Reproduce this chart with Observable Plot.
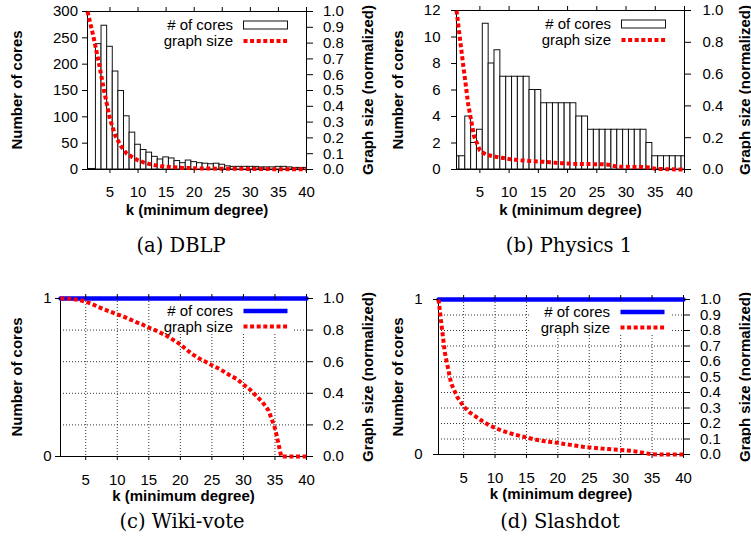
<!DOCTYPE html>
<html><head><meta charset="utf-8">
<script src="https://cdn.jsdelivr.net/npm/d3@7"></script>
<script src="https://cdn.jsdelivr.net/npm/@observablehq/plot@0.6"></script>
<style>
body{margin:0;background:#fff;}
#root{position:relative;width:751px;height:550px;overflow:hidden;background:#fff;font-family:"Liberation Sans",Arial,sans-serif;}
.panel{position:absolute;}
.cap{position:absolute;font-family:"DejaVu Serif",serif;font-size:19.5px;transform:translate(-50%,-50%);white-space:nowrap;color:#000;}
.ttl{position:absolute;font-family:"Liberation Sans",Arial,sans-serif;font-weight:bold;font-size:15px;white-space:nowrap;color:#000;transform:translate(-50%,-50%) rotate(-90deg);line-height:1;}
</style></head><body><div id="root"></div>
<script>
// ---- data ----
const kValues = [1,2,3,4,5,6,7,8,9,10,11,12,13,14,15,16,17,18,19,20,21,22,23,24,25,26,27,28,29,30,31,32,33,34,35,36,37,38,39,40];
const xTicks = [5,10,15,20,25,30,35,40];
const gridX = [5,10,15,20,25,30,35];
const legendLabels = ["# of cores", "graph size"];
const captions = ["(a) DBLP", "(b) Physics 1", "(c) Wiki-vote", "(d) Slashdot"];
const xTitle = "k (minimum degree)";
const yTitle = "Number of cores";
const y2Title = "Graph size (normalized)";

const dblpCores = [1,1,238,273,233,186,149,101,70,47,37,32,24,19,23,21,16,12,17,14,12,11,10,11,9,6,5,5,5,5,5,4,4,4,5,5,4,3,3,3];
const dblpSize = [1.0,0.85,0.68,0.49,0.32,0.21,0.145,0.10,0.078,0.058,0.045,0.035,0.027,0.022,0.018,0.015,0.012,0.010,0.009,0.008,0.007,0.006,0.006,0.005,0.005,0.005,0.004,0.004,0.004,0.003,0.003,0.003,0.003,0.002,0.002,0.002,0.002,0.001,0.001,0.001];
const physCores = [1,1,4,2,3,11,8,9,7,7,7,7,7,6,6,5,5,5,5,5,5,4,4,3,3,3,3,3,3,3,3,3,3,2,1,1,1,1,1,1];
const physSize = [1.0,0.70,0.41,0.21,0.12,0.095,0.085,0.078,0.072,0.066,0.062,0.058,0.055,0.052,0.05,0.048,0.045,0.042,0.04,0.038,0.036,0.035,0.034,0.034,0.033,0.033,0.03,0.022,0.018,0.017,0.016,0.016,0.015,0.012,0.005,0.003,0.002,0.001,0,0];
const wikiCores = [1,1,1,1,1,1,1,1,1,1,1,1,1,1,1,1,1,1,1,1,1,1,1,1,1,1,1,1,1,1,1,1,1,1,1,1,1,1,1,1];
const wikiSize = [1.0,1.0,0.995,0.99,0.98,0.965,0.947,0.93,0.915,0.9,0.885,0.868,0.85,0.835,0.815,0.8,0.78,0.76,0.735,0.71,0.675,0.645,0.62,0.6,0.578,0.558,0.535,0.51,0.49,0.455,0.425,0.385,0.345,0.29,0.18,0,0,0,0,0];
const slashCores = [1,1,1,1,1,1,1,1,1,1,1,1,1,1,1,1,1,1,1,1,1,1,1,1,1,1,1,1,1,1,1,1,1,1,1,1,1,1,1,1];
const slashSize = [1.0,0.66,0.46,0.37,0.31,0.27,0.243,0.215,0.19,0.172,0.155,0.142,0.13,0.12,0.11,0.1,0.092,0.085,0.08,0.075,0.068,0.062,0.056,0.05,0.046,0.042,0.038,0.035,0.032,0.029,0.026,0.022,0.016,0.008,0.002,0,0,0,0,0];

const dblpLeftTicks = [0,50,100,150,200,250,300];
const physLeftTicks = [0,2,4,6,8,10,12];
const unitLeftTicks = [0,1];
const rightTicksTenth = [0,0.1,0.2,0.3,0.4,0.5,0.6,0.7,0.8,0.9,1.0];
const rightTicksFifth = [0,0.2,0.4,0.6,0.8,1.0];
const gridYFifth = [0.2,0.4,0.6,0.8];
const gridYTenth = [0.1,0.2,0.3,0.4,0.5,0.6,0.7,0.8,0.9];

const RED = "#ff0000", BLUE = "#0000ff";
const DASH = "4,2.6";
const NS = "http://www.w3.org/2000/svg";
const FS = 15;

function el(tag, attrs, text) {
  const e = document.createElementNS(NS, tag);
  for (const k in attrs) e.setAttribute(k, attrs[k]);
  if (text != null) e.textContent = text;
  return e;
}

function legendMark(bars, opaque) {
  return (index, scales, values, dim) => {
    const R = dim.width - dim.marginRight;
    const T = dim.marginTop;
    const g = el("g", {});
    const r1 = bars ? T + 14 : T + 13;
    const r2 = bars ? T + 30 : T + 28.5;
    if (opaque) g.appendChild(el("rect", {x: R - 152, y: T + 3, width: 140, height: 33, fill: "#fff"}));
    g.appendChild(el("text", {x: R - 73, y: r1, "text-anchor": "end", dy: "0.35em", "font-size": FS, fill: "#000"}, legendLabels[0]));
    g.appendChild(el("text", {x: R - 73, y: r2, "text-anchor": "end", dy: "0.35em", "font-size": FS, fill: "#000"}, legendLabels[1]));
    if (bars) g.appendChild(el("rect", {x: R - 62.5, y: r1 - 4, width: 44, height: 8, fill: "#fff", stroke: "#111", "stroke-width": 1}));
    else g.appendChild(el("line", {x1: R - 62.5, x2: R - 18.5, y1: r1, y2: r1, stroke: BLUE, "stroke-width": 4.5}));
    g.appendChild(el("line", {x1: R - 62.5, x2: R - 18.5, y1: r2, y2: r2, stroke: RED, "stroke-width": 4, "stroke-dasharray": DASH}));
    return g;
  };
}

const root = document.getElementById("root");

function addDiv(cls, x, y, text) {
  const d = document.createElement("div");
  d.className = cls;
  d.style.left = x + "px";
  d.style.top = y + "px";
  d.textContent = text;
  root.appendChild(d);
}

function panel(cfg) {
  const data = kValues.map((k, i) => ({k, cores: cfg.cores[i], size: cfg.size[i]}));
  const s = cfg.yMax;
  const marks = [];
  if (cfg.grid) {
    marks.push(Plot.ruleX(gridX, {stroke: "#333", strokeWidth: 1, strokeDasharray: "1,2"}));
    marks.push(Plot.ruleY(cfg.gridY, {stroke: "#333", strokeWidth: 1, strokeDasharray: "1,2"}));
  } else {
    marks.push(Plot.rect(data, {x1: d => d.k - 0.5, x2: d => d.k + 0.5, y1: d => 0, y2: "cores", fill: "#fff", stroke: "#111", strokeWidth: 1, clip: true}));
  }
  marks.push(legendMark(!cfg.grid, cfg.grid));
  marks.push(Plot.frame({stroke: "#000", strokeWidth: 1}));
  if (cfg.grid) marks.push(Plot.line(data, {x: "k", y: "cores", stroke: BLUE, strokeWidth: 4.5}));
  marks.push(Plot.line(data, {x: "k", y: d => d.size * s, stroke: RED, strokeWidth: 4, strokeDasharray: DASH, strokeLinecap: "butt", strokeLinejoin: "miter"}));
  marks.push(Plot.axisX(xTicks, {anchor: "bottom", tickSize: 4, tickPadding: cfg.xPad, label: null}));
  marks.push(Plot.axisX(xTicks, {anchor: "top", tickSize: 5, tickFormat: () => "", label: null}));
  marks.push(Plot.axisY(cfg.leftTicks, {anchor: "left", tickSize: 5, tickPadding: cfg.leftPad, tickFormat: d => String(d), label: null}));
  marks.push(Plot.axisY(cfg.rightTicks.map(v => v * s), {anchor: "right", tickSize: 6, tickPadding: cfg.rightPad, tickFormat: d => (d / s).toFixed(1), label: null}));
  marks.push(Plot.text([xTitle], {text: d => d, frameAnchor: "bottom", dy: cfg.xTitleDy, fontWeight: "bold", fontSize: 15}));

  const svg = Plot.plot({
    width: cfg.width, height: cfg.height,
    marginLeft: cfg.ml, marginRight: cfg.mr, marginTop: cfg.mt, marginBottom: cfg.mb,
    x: {domain: [1, 40]},
    y: {domain: [0, s]},
    style: {fontFamily: "'Liberation Sans', Arial, sans-serif", fontSize: FS + "px", color: "#000", background: "transparent", overflow: "visible"},
    marks
  });
  const wrap = document.createElement("div");
  wrap.className = "panel";
  wrap.style.left = cfg.left + "px";
  wrap.style.top = cfg.top + "px";
  wrap.appendChild(svg);
  root.appendChild(wrap);
  const midY = cfg.top + cfg.mt + (cfg.height - cfg.mt - cfg.mb) / 2;
  addDiv("ttl", cfg.yTitleX, midY, yTitle);
  addDiv("ttl", cfg.y2TitleX, midY, y2Title);
  addDiv("cap", cfg.capX, cfg.capY, cfg.caption);
}

panel({cores: dblpCores, size: dblpSize, yMax: 300, grid: false, leftTicks: dblpLeftTicks, rightTicks: rightTicksTenth,
  left: 0, top: 0, width: 375, height: 232, ml: 87, mr: 69, mt: 11, mb: 63,
  xPad: 13, leftPad: 4.5, rightPad: 10.5, xTitleDy: 45, yTitleX: 16, y2TitleX: 367,
  caption: captions[0], capX: 181, capY: 245});

panel({cores: physCores, size: physSize, yMax: 12, grid: false, leftTicks: physLeftTicks, rightTicks: rightTicksFifth,
  left: 375, top: 0, width: 376, height: 232, ml: 81, mr: 67, mt: 10, mb: 63,
  xPad: 13, leftPad: 11, rightPad: 12, xTitleDy: 45, yTitleX: 397, y2TitleX: 744,
  caption: captions[1], capX: 569, capY: 245});

panel({cores: wikiCores, size: wikiSize, yMax: 1, grid: true, gridY: gridYFifth, leftTicks: unitLeftTicks, rightTicks: rightTicksFifth,
  left: 0, top: 280, width: 375, height: 232, ml: 60, mr: 69, mt: 18, mb: 56,
  xPad: 14, leftPad: 4, rightPad: 10.5, xTitleDy: 44, yTitleX: 16, y2TitleX: 367,
  caption: captions[2], capX: 182, capY: 521});

panel({cores: slashCores, size: slashSize, yMax: 1, grid: true, gridY: gridYTenth, leftTicks: unitLeftTicks, rightTicks: rightTicksTenth,
  left: 375, top: 280, width: 376, height: 232, ml: 63, mr: 68, mt: 19, mb: 58,
  xPad: 14, leftPad: 11, rightPad: 10.5, xTitleDy: 44, yTitleX: 397, y2TitleX: 744,
  caption: captions[3], capX: 560, capY: 521});
</script>
</body></html>
